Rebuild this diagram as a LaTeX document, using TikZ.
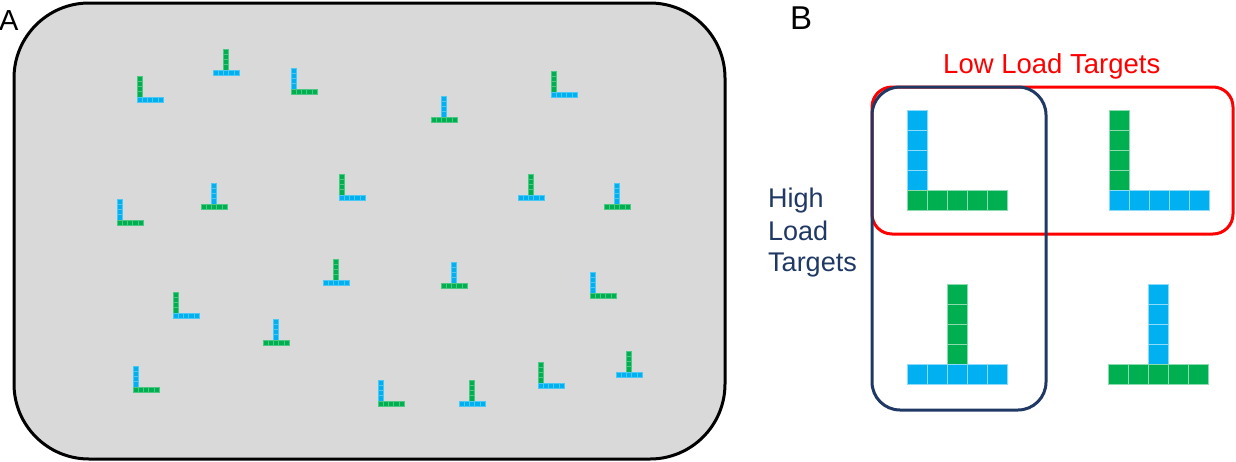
\documentclass[tikz,border=0pt]{standalone}
\usepackage{fontspec}
\setmainfont{Liberation Sans}
\definecolor{cblue}{HTML}{00B0F0}
\definecolor{cgreen}{HTML}{00B050}
\definecolor{cgray}{HTML}{D9D9D9}
\definecolor{cnavy}{HTML}{1F3864}
\definecolor{cred}{HTML}{FF0000}
\tikzset{
  panelbox/.style={draw=black, line width=3pt, fill=cgray, rounded corners=75pt},
  lowbox/.style={draw=cred, line width=3pt, rounded corners=20pt},
  highbox/.style={draw=cnavy, line width=3pt, rounded corners=28pt},
  panellabel/.style={anchor=base west, inner sep=0pt, text=black},
  navytext/.style={anchor=base west, inner sep=0pt, text=cnavy, font=\fontsize{27}{32}\selectfont},
}
\newcommand\sqcell[6]{\path[fill=#4, draw=white!#6!#4, line width=#5] (#1,#2) rectangle ++(#3,#3);}
% L glyph: x y cell stemcolour barcolour linewidth whiteness
\newcommand\glyphL[7]{%
  \foreach \i in {0,1,2,3}{\sqcell{#1}{#2+\i*#3}{#3}{#4}{#6}{#7}}%
  \foreach \i in {0,1,2,3,4}{\sqcell{#1+\i*#3}{#2+4*#3}{#3}{#5}{#6}{#7}}%
}
% T glyph: x y cell stemcolour barcolour linewidth whiteness
\newcommand\glyphT[7]{%
  \foreach \i in {0,1,2,3}{\sqcell{#1+2*#3}{#2+\i*#3}{#3}{#4}{#6}{#7}}%
  \foreach \i in {0,1,2,3,4}{\sqcell{#1+\i*#3}{#2+4*#3}{#3}{#5}{#6}{#7}}%
}
\newcommand\sL[4]{\glyphL{#1}{#2}{5.2}{#3}{#4}{0.25pt}{30}}
\newcommand\sT[4]{\glyphT{#1}{#2}{5.2}{#3}{#4}{0.25pt}{30}}
\begin{document}
\begin{tikzpicture}[x=1pt, y=-1pt]
\useasboundingbox (0,0) rectangle (1236,461);
% Panel A
\draw[panelbox] (14,3) rectangle (725,459);
\node[panellabel, font=\fontsize{29}{29}\selectfont] (labA) at (-1,30) {A};
% L glyphs
\sL{137}{76}{cgreen}{cblue}
\sL{291}{68}{cblue}{cgreen}
\sL{117}{199}{cblue}{cgreen}
\sL{339}{174}{cgreen}{cblue}
\sL{551}{71}{cgreen}{cblue}
\sL{173}{292}{cgreen}{cblue}
\sL{133}{366}{cblue}{cgreen}
\sL{378}{380}{cblue}{cgreen}
\sL{590}{272}{cblue}{cgreen}
\sL{538}{362}{cgreen}{cblue}
% T glyphs
\sT{213}{49}{cgreen}{cblue}
\sT{201}{183}{cblue}{cgreen}
\sT{431}{96}{cblue}{cgreen}
\sT{518}{174}{cgreen}{cblue}
\sT{604}{183}{cblue}{cgreen}
\sT{323}{259}{cgreen}{cblue}
\sT{263}{319}{cblue}{cgreen}
\sT{441}{262}{cblue}{cgreen}
\sT{616}{351}{cgreen}{cblue}
\sT{459}{380}{cgreen}{cblue}
% Panel B
\node[panellabel, font=\fontsize{33}{33}\selectfont] (labB) at (790,29) {B};
\draw[lowbox] (872,87) rectangle (1233,234);
\draw[highbox] (872,87) rectangle (1046,410);
\glyphL{907}{110}{20}{cblue}{cgreen}{0.8pt}{55}
\glyphL{1109}{110}{20}{cgreen}{cblue}{0.8pt}{55}
\glyphT{907}{284}{20}{cgreen}{cblue}{0.8pt}{55}
\glyphT{1108}{284}{20}{cblue}{cgreen}{0.8pt}{55}
\node[anchor=base west, inner sep=0pt, text=cred, font=\fontsize{27.5}{27.5}\selectfont] (lowlab) at (943,73) {Low Load Targets};
\node[navytext] (high1) at (768,207) {High};
\node[navytext] (high2) at (768,240) {Load};
\node[navytext] (high3) at (768,271) {Targets};
\end{tikzpicture}
\end{document}
